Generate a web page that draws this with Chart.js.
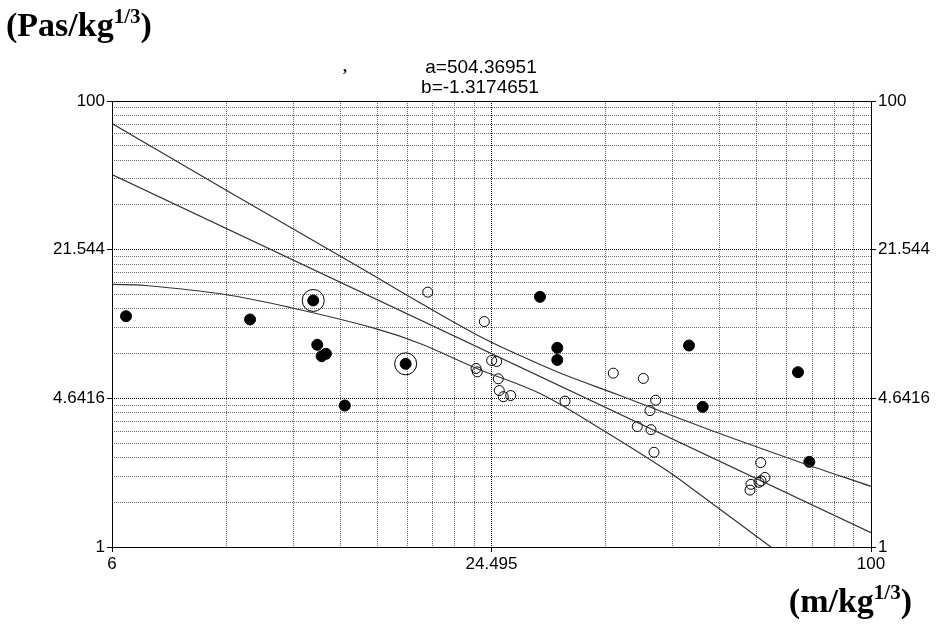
<!DOCTYPE html>
<html>
<head>
<meta charset="utf-8">
<script src="https://cdn.jsdelivr.net/npm/chart.js@4/dist/chart.umd.min.js"></script>
<style>
  body { margin: 0; background: #fff; }
  #wrap { position: relative; width: 940px; height: 631px; }
  canvas { position: absolute; left: 0; top: 0; }
  .unit { position: absolute; font-family: "Liberation Serif", "Times New Roman", serif; font-weight: bold; font-size: 34px; color: #000; white-space: nowrap; }
  .unit sup { font-size: 21px; vertical-align: 13px; }
  .fit { position: absolute; width: 200px; text-align: center; font-family: "Liberation Sans", Arial, sans-serif; font-size: 19px; color: #000; }
</style>
</head>
<body>
<div id="wrap">
  <canvas id="chart" width="940" height="631"></canvas>
  <div class="unit" style="left:6px; top:4px;">(Pas/kg<sup>1/3</sup>)</div>
  <div class="unit" style="left:343px; top:58px; font-size:16px;">,</div>
  <div class="fit" style="left:381px; top:56px;">a=504.36951</div>
  <div class="fit" style="left:380px; top:76px;">b=-1.3174651</div>
  <div class="unit" style="right:28px; top:580px;">(m/kg<sup>1/3</sup>)</div>
</div>
<script>
// axis labels (pseudo-decades of a log grid)
const xMajor = [6, 24.495, 100];
const yMajor = [1, 4.6416, 21.544, 100];
const xTickLabels = ["6", "24.495", "100"];
const yTickLabels = ["1", "4.6416", "21.544", "100"];

// filled points
const filledX = [6.32, 10.01, 12.65, 12.84, 13.05, 13.26, 14.22, 17.82, 29.32, 31.26, 31.26, 50.93, 53.59, 76.29, 79.56];
const filledY = [10.84, 10.48, 12.75, 8.07, 7.17, 7.35, 4.31, 6.63, 13.24, 7.82, 6.90, 8.01, 4.25, 6.08, 2.41];
// ringed points
const ringX = [12.65, 17.82];
const ringY = [12.75, 6.63];
// open points
const openX = [19.34, 23.85, 24.51, 24.97, 23.13, 23.24, 25.12, 25.21, 25.59, 26.30, 32.17, 38.47, 43.0, 45.02, 44.08, 42.05, 44.24, 44.74, 66.44, 67.5, 66.51, 66.02, 64.08, 63.86];
const openY = [13.89, 10.26, 6.86, 6.79, 6.32, 6.10, 5.68, 5.03, 4.72, 4.78, 4.51, 6.02, 5.70, 4.55, 4.09, 3.47, 3.36, 2.66, 2.39, 2.05, 1.98, 1.95, 1.91, 1.80];
// fitted line and bands
const fitX = [6, 100];
const fitY = [46.8, 1.16];
const upperX = [6, 9.12, 15.23, 18.79, 23.47, 27.22, 31.57, 39.44, 53.05, 76.86, 100];
const upperY = [79.3, 40.1, 17.55, 12.45, 8.79, 7.22, 6.03, 4.78, 3.48, 2.40, 1.87];
const lowerX = [6, 6.78, 9.12, 11.61, 15.79, 18.79, 23.19, 29.32, 36.63, 46.6, 53.05, 69.0];
const lowerY = [15.04, 14.88, 13.56, 11.86, 9.61, 8.18, 6.32, 4.88, 3.40, 2.23, 1.72, 1.0];

const pts = (xs, ys) => xs.map((x, i) => ({ x: x, y: ys[i] }));

function gridValues(majors) {
  const out = [];
  for (let i = 0; i < majors.length - 1; i++) {
    const lo = majors[i], hi = majors[i + 1];
    out.push(lo);
    for (let k = 2; k <= 9; k++) out.push(lo * Math.pow(hi / lo, Math.log10(k)));
  }
  out.push(majors[majors.length - 1]);
  return out;
}
const majorIndex = (majors, v) => majors.findIndex(m => Math.abs(m - v) < m * 1e-6);

function logAxis(majors, labels, extra) {
  return Object.assign({
    type: "logarithmic",
    min: majors[0],
    max: majors[majors.length - 1],
    afterBuildTicks: (s) => { s.ticks = gridValues(majors).map(v => ({ value: v })); },
    border: { display: false, dash: [1, 1] },
    grid: {
      color: (c) => (c.tick && majorIndex(majors, c.tick.value) >= 0 ? "#000" : "#6a6a6a"),
      tickColor: (c) => (c.tick && majorIndex(majors, c.tick.value) >= 0 ? "#000" : "rgba(0,0,0,0)"),
      tickLength: 5,
      lineWidth: 1,
    },
    ticks: {
      autoSkip: false,
      maxRotation: 0,
      padding: 2,
      color: "#000",
      font: { family: "'Liberation Sans', Arial, sans-serif", size: 17 },
      callback: (v) => { const i = majorIndex(majors, v); return i >= 0 ? labels[i] : ""; },
    },
  }, extra);
}

const frame = {
  id: "frame",
  afterDraw(chart) {
    const a = chart.chartArea, ctx = chart.ctx;
    ctx.save();
    ctx.setLineDash([]);
    ctx.strokeStyle = "#000";
    ctx.lineWidth = 1;
    ctx.strokeRect(Math.round(a.left) + 0.5, Math.round(a.top) + 0.5, Math.round(a.right - a.left), Math.round(a.bottom - a.top));
    ctx.restore();
  },
};

const lineStyle = { type: "line", showLine: true, pointRadius: 0, borderColor: "#333", borderWidth: 1.2, fill: false };

new Chart(document.getElementById("chart"), {
  type: "scatter",
  data: {
    datasets: [
      Object.assign({ label: "fit", data: pts(fitX, fitY), tension: 0 }, lineStyle),
      Object.assign({ label: "upper", data: pts(upperX, upperY), tension: 0.35 }, lineStyle),
      Object.assign({ label: "lower", data: pts(lowerX, lowerY), tension: 0.35 }, lineStyle),
      { label: "ring", data: pts(ringX, ringY), pointRadius: 11, pointBackgroundColor: "rgba(0,0,0,0)", pointBorderColor: "#000", pointBorderWidth: 1 },
      { label: "open", data: pts(openX, openY), pointRadius: 5, pointBackgroundColor: "rgba(0,0,0,0)", pointBorderColor: "#000", pointBorderWidth: 1 },
      { label: "filled", data: pts(filledX, filledY), pointRadius: 5.5, pointBackgroundColor: "#000", pointBorderColor: "#000", pointBorderWidth: 1 },
    ],
  },
  options: {
    responsive: false,
    animation: false,
    layout: { padding: { top: 101, left: 0, right: 0, bottom: 0 } },
    plugins: { legend: { display: false }, tooltip: { enabled: false } },
    scales: {
      x: logAxis(xMajor, xTickLabels, { position: "bottom", afterFit: (s) => { s.height = 84; } }),
      y: logAxis(yMajor, yTickLabels, { position: "left", afterFit: (s) => { s.width = 112; } }),
      y2: logAxis(yMajor, yTickLabels, {
        position: "right",
        afterFit: (s) => { s.width = 69; },
      }),
    },
  },
  plugins: [frame],
});
</script>
</body>
</html>
